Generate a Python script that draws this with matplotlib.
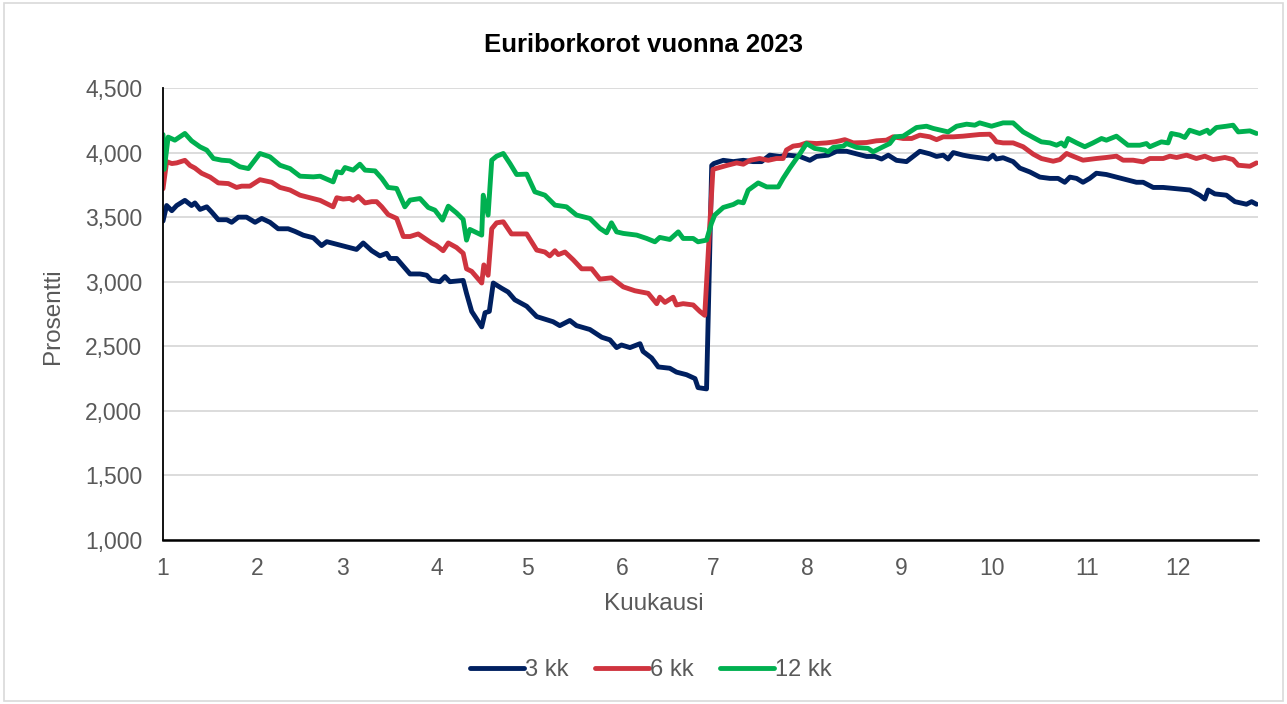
import matplotlib
matplotlib.use("Agg")
import matplotlib.pyplot as plt
from matplotlib.ticker import FuncFormatter
from matplotlib.patches import Rectangle

plt.rcParams['font.family'] = ['Liberation Sans', 'DejaVu Sans']

title = "Euriborkorot vuonna 2023"
x_label = "Kuukausi"
y_label = "Prosentti"
month_labels = ["1", "2", "3", "4", "5", "6", "7", "8", "9", "10", "11", "12"]
month_start_days = [0, 31, 59, 90, 120, 151, 181, 212, 243, 273, 304, 334]
series_names = ["3 kk", "6 kk", "12 kk"]

days_3kk = [0, 1.2, 2.9, 4.5, 7.2, 9.4, 10.5, 12.2, 14.4, 16, 18.2, 21, 22.6, 24.8, 27.5,
            30.3, 32.5, 35.2, 37.9, 41.2, 43.4, 46.2, 49.5, 52.2, 53.9, 57.2, 60.4, 63.7,
            65.9, 68.7, 71.4, 73.6, 74.7, 76.9, 79.1, 81.3, 84.6, 86.8, 88.4, 91.1, 92.8,
            94.4, 98.8, 99.9, 101.6, 104.9, 106, 107.4, 108.7, 111.4, 113.6, 115.8, 119.7,
            123, 128.4, 130.6, 133.9, 136.1, 140.5, 144.4, 147.1, 149.3, 150.9, 153.7, 157,
            158, 160.8, 163, 166.8, 169, 172.3, 175.1, 176.1, 178.9, 180.6, 181.3, 184.4,
            187.7, 191, 194.2, 197, 199.7, 203, 205.8, 209.6, 212.9, 215.1, 218.9, 221.7,
            225, 228.3, 231.6, 234.3, 236.5, 238.7, 241.4, 244.7, 246.9, 249.1, 252.4,
            254.6, 256.8, 258.4, 260.1, 263.3, 265.6, 268.8, 271.6, 273.2, 274.3, 276.5,
            279.8, 282, 285.3, 288.6, 291.9, 294.6, 296.8, 298.5, 300.7, 302.8, 305, 307.2,
            310.5, 313.8, 317.1, 320.4, 322.6, 325.9, 329.2, 333.6, 338, 341.2, 342.9, 344,
            346.2, 350, 352.8, 356.6, 358.3, 359.9]
rate_3kk = [3.47, 3.59, 3.55, 3.59, 3.63, 3.59, 3.61, 3.56, 3.58, 3.54, 3.48, 3.48, 3.46,
            3.50, 3.50, 3.46, 3.49, 3.46, 3.41, 3.41, 3.39, 3.36, 3.34, 3.28, 3.31, 3.29,
            3.27, 3.25, 3.30, 3.24, 3.20, 3.22, 3.18, 3.18, 3.12, 3.06, 3.06, 3.05, 3.01,
            3.00, 3.04, 3.00, 3.01, 2.91, 2.77, 2.65, 2.76, 2.77, 2.99, 2.95, 2.92, 2.86,
            2.81, 2.73, 2.69, 2.66, 2.70, 2.66, 2.63, 2.57, 2.55, 2.49, 2.51, 2.49, 2.52,
            2.46, 2.41, 2.34, 2.33, 2.30, 2.28, 2.25, 2.18, 2.17, 3.90, 3.915, 3.94, 3.93,
            3.94, 3.93, 3.93, 3.98, 3.97, 3.98, 3.97, 3.94, 3.97, 3.98, 4.01, 4.01, 3.99,
            3.97, 3.97, 3.95, 3.98, 3.94, 3.93, 3.97, 4.01, 3.99, 3.97, 3.98, 3.95, 4.00,
            3.98, 3.97, 3.96, 3.95, 3.98, 3.95, 3.96, 3.93, 3.88, 3.85, 3.81, 3.80, 3.80,
            3.77, 3.81, 3.80, 3.77, 3.80, 3.84, 3.83, 3.81, 3.79, 3.77, 3.77, 3.73, 3.73,
            3.72, 3.71, 3.67, 3.64, 3.71, 3.68, 3.67, 3.62, 3.60, 3.62, 3.60]

days_6kk = [0, 1.2, 2.9, 4.5, 7.2, 8.9, 10.5, 12.7, 15.5, 18.2, 21.5, 24.2, 25.9, 28.6,
            31.9, 35.8, 38.5, 41.8, 45.1, 48.4, 51.7, 56, 57.2, 59.3, 61.5, 62.6, 64.3, 66.5,
            68.7, 70.3, 72, 74.1, 76.9, 79.1, 81.3, 84, 86.2, 88.4, 90, 92.2, 93.9, 96.6,
            98.8, 99.9, 101.6, 104.9, 105.6, 107, 108.2, 109.8, 112, 114.7, 116.9, 119.7,
            123, 125.7, 127.3, 129, 130.1, 132.3, 135, 137.8, 141.1, 143.8, 147.6, 151.5,
            155.3, 159.7, 162.5, 163.5, 165.2, 167.9, 169, 171.2, 174.5, 176.7, 178.3, 181,
            185.5, 188.8, 191, 193.2, 196.4, 199.2, 201.9, 204.1, 205.2, 207.4, 209.6, 211.8,
            215.1, 218.4, 221.1, 222.8, 224.4, 227.2, 231.6, 234.8, 238.1, 240.3, 243.6,
            246.4, 249.1, 252.4, 254.6, 256.8, 260.1, 263.3, 266.6, 268.8, 272.1, 273.2,
            274.3, 276.5, 279.8, 283.1, 286.4, 289.1, 293, 295.2, 297.4, 299.5, 302.8, 307.2,
            310.5, 313.8, 316, 319.3, 322.6, 324.8, 329.2, 331.4, 333.6, 336.9, 340.1, 342.9,
            345.6, 349.5, 352.2, 353.9, 357.7, 359.9]
rate_6kk = [3.72, 3.93, 3.915, 3.92, 3.94, 3.90, 3.88, 3.84, 3.81, 3.765, 3.76, 3.73, 3.74,
            3.74, 3.79, 3.77, 3.73, 3.71, 3.67, 3.65, 3.63, 3.58, 3.65, 3.64, 3.645, 3.63,
            3.66, 3.61, 3.62, 3.62, 3.58, 3.52, 3.49, 3.35, 3.35, 3.37, 3.335, 3.30, 3.28,
            3.24, 3.30, 3.265, 3.22, 3.10, 3.08, 2.99, 3.13, 3.05, 3.41, 3.456, 3.464, 3.37,
            3.37, 3.37, 3.245, 3.23, 3.20, 3.24, 3.21, 3.23, 3.17, 3.10, 3.10, 3.02, 3.03,
            2.96, 2.93, 2.91, 2.83, 2.88, 2.84, 2.88, 2.82, 2.83, 2.82, 2.77, 2.74, 3.87,
            3.90, 3.92, 3.91, 3.94, 3.954, 3.94, 3.954, 3.954, 4.02, 4.05, 4.057, 4.075,
            4.07, 4.075, 4.083, 4.091, 4.10, 4.075, 4.078, 4.091, 4.096, 4.122, 4.109, 4.109,
            4.135, 4.122, 4.10, 4.122, 4.122, 4.127, 4.135, 4.14, 4.142, 4.117, 4.083, 4.075,
            4.075, 4.045, 3.988, 3.954, 3.933, 3.946, 3.993, 3.972, 3.941, 3.954, 3.962,
            3.972, 3.941, 3.941, 3.928, 3.954, 3.954, 3.972, 3.962, 3.98, 3.954, 3.972,
            3.946, 3.962, 3.946, 3.902, 3.894, 3.92]

days_12kk = [0, 0.4, 1.7, 3.9, 7.2, 9.4, 12.2, 14.4, 16.6, 19.3, 22, 25.3, 28.1, 31.9,
             35.2, 38.5, 41.8, 45.1, 49.5, 51.7, 56, 57.2, 58.8, 59.9, 62.6, 64.8, 66.5,
             69.8, 72, 74.1, 76.9, 79.6, 81.3, 84.6, 87.3, 89.5, 92, 93.9, 96.6, 98.8, 99.9,
             101, 104.9, 105.4, 107, 108.2, 109.8, 112, 114.2, 116.4, 119.7, 122.4, 125.7,
             129, 132.8, 136.1, 140.5, 143.8, 146, 147.6, 149.3, 151.5, 155.9, 159.2, 161.9,
             163.5, 166.8, 169.6, 171.2, 174.5, 176.1, 178.9, 180.5, 181.6, 184.4, 187.7,
             189.3, 191, 192.6, 195.9, 198.7, 202.5, 204.1, 206.3, 209.6, 211.8, 214.5,
             217.8, 218.9, 220.6, 223.9, 225, 228.3, 232.1, 233.7, 237, 239.2, 240.9, 243.6,
             245.8, 248, 251.3, 253.5, 258.4, 261.2, 264.5, 267.2, 268.8, 272.7, 276.5,
             279.8, 283.1, 286.4, 289.1, 291.9, 294.1, 295.7, 296.8, 297.9, 300.7, 303.4,
             306.1, 308.9, 310.5, 313.8, 317.6, 321.5, 323.7, 324.8, 328.6, 330.8, 331.9,
             334.6, 336.3, 337.9, 341.2, 343.7, 344.5, 346.7, 350, 352.2, 353.9, 357.7, 359.9]
rate_12kk = [4.14, 3.87, 4.12, 4.096, 4.148, 4.091, 4.044, 4.019, 3.954, 3.941, 3.936, 3.89,
             3.876, 3.993, 3.967, 3.902, 3.876, 3.817, 3.812, 3.817, 3.773, 3.851, 3.843,
             3.884, 3.864, 3.91, 3.864, 3.858, 3.80, 3.73, 3.722, 3.58, 3.632, 3.644, 3.575,
             3.554, 3.477, 3.585, 3.533, 3.482, 3.322, 3.405, 3.361, 3.67, 3.516, 3.941,
             3.972, 3.993, 3.915, 3.83, 3.833, 3.696, 3.67, 3.593, 3.58, 3.516, 3.49, 3.413,
             3.379, 3.456, 3.386, 3.374, 3.361, 3.335, 3.309, 3.343, 3.327, 3.386, 3.335,
             3.335, 3.309, 3.322, 3.451, 3.516, 3.575, 3.598, 3.619, 3.611, 3.709, 3.765,
             3.734, 3.734, 3.80, 3.88, 3.99, 4.07, 4.032, 4.019, 4.006, 4.04, 4.05, 4.07,
             4.04, 4.032, 4.006, 4.045, 4.07, 4.122, 4.127, 4.16, 4.194, 4.204, 4.187, 4.16,
             4.204, 4.22, 4.212, 4.23, 4.204, 4.23, 4.23, 4.16, 4.117, 4.083, 4.075, 4.057,
             4.075, 4.05, 4.109, 4.075, 4.045, 4.075, 4.109, 4.096, 4.127, 4.057, 4.057,
             4.07, 4.045, 4.083, 4.075, 4.148, 4.135, 4.117, 4.173, 4.148, 4.173, 4.148,
             4.194, 4.204, 4.212, 4.16, 4.168, 4.148]

colors = ["#002060", "#CF343F", "#00B050"]

W, H = 1287, 704
fig = plt.figure(figsize=(W / 100, H / 100), dpi=100)
ax = fig.add_axes([163 / W, 1 - 540 / H, (1258 - 163) / W, (540 - 88) / H])

for d, r, c, n in zip([days_3kk, days_6kk, days_12kk],
                      [rate_3kk, rate_6kk, rate_12kk], colors, series_names):
    ax.plot(d, r, color=c, lw=3.5, label=n, solid_joinstyle="round",
            solid_capstyle="round")

ax.set_xlim(0, 360.4)
ax.set_ylim(1.0, 4.5)
ax.set_xticks(month_start_days)
ax.set_xticklabels(month_labels)
ax.set_yticks([1.0, 1.5, 2.0, 2.5, 3.0, 3.5, 4.0, 4.5])
ax.yaxis.set_major_formatter(FuncFormatter(lambda v, p: f"{v:.3f}".replace(".", ",")))
ax.grid(axis="y", color="#D9D9D9", lw=1.3)
ax.set_axisbelow(True)
ax.tick_params(axis="both", length=0, labelsize=16.5, labelcolor="#595959")
ax.tick_params(axis="y", pad=15)
ax.tick_params(axis="x", pad=12)
for s in ["top", "right"]:
    ax.spines[s].set_visible(False)
ax.spines["left"].set_color("black")
ax.spines["left"].set_linewidth(1.3)
ax.spines["bottom"].set_color("black")
ax.spines["bottom"].set_linewidth(1.8)

fig.text(0.5, 1 - 45 / H, title, ha="center", va="center", fontsize=18.5,
         fontweight="bold", color="black")
ax.set_xlabel(x_label, fontsize=17.5, color="#595959")
ax.xaxis.set_label_coords((654 - 163) / 1095, (540 - 604) / 452)
ax.xaxis.label.set_va("center")
ax.set_ylabel(y_label, fontsize=17.5, color="#595959")
ax.yaxis.set_label_coords((53 - 163) / 1095, 0.495)
ax.yaxis.label.set_va("center")

leg = fig.legend(loc="center", bbox_to_anchor=(651 / W, 1 - 670 / H), ncol=3,
                 frameon=False, fontsize=17, handlelength=2.3, handletextpad=0.05,
                 columnspacing=1.1, labelcolor="#595959")

fig.patches.append(Rectangle((4 / W, 3 / H), (W - 8) / W, (H - 6) / H,
                             transform=fig.transFigure, fill=False,
                             edgecolor="#D9D9D9", lw=1.2))

fig.savefig("out.png", dpi=100, facecolor="white")
